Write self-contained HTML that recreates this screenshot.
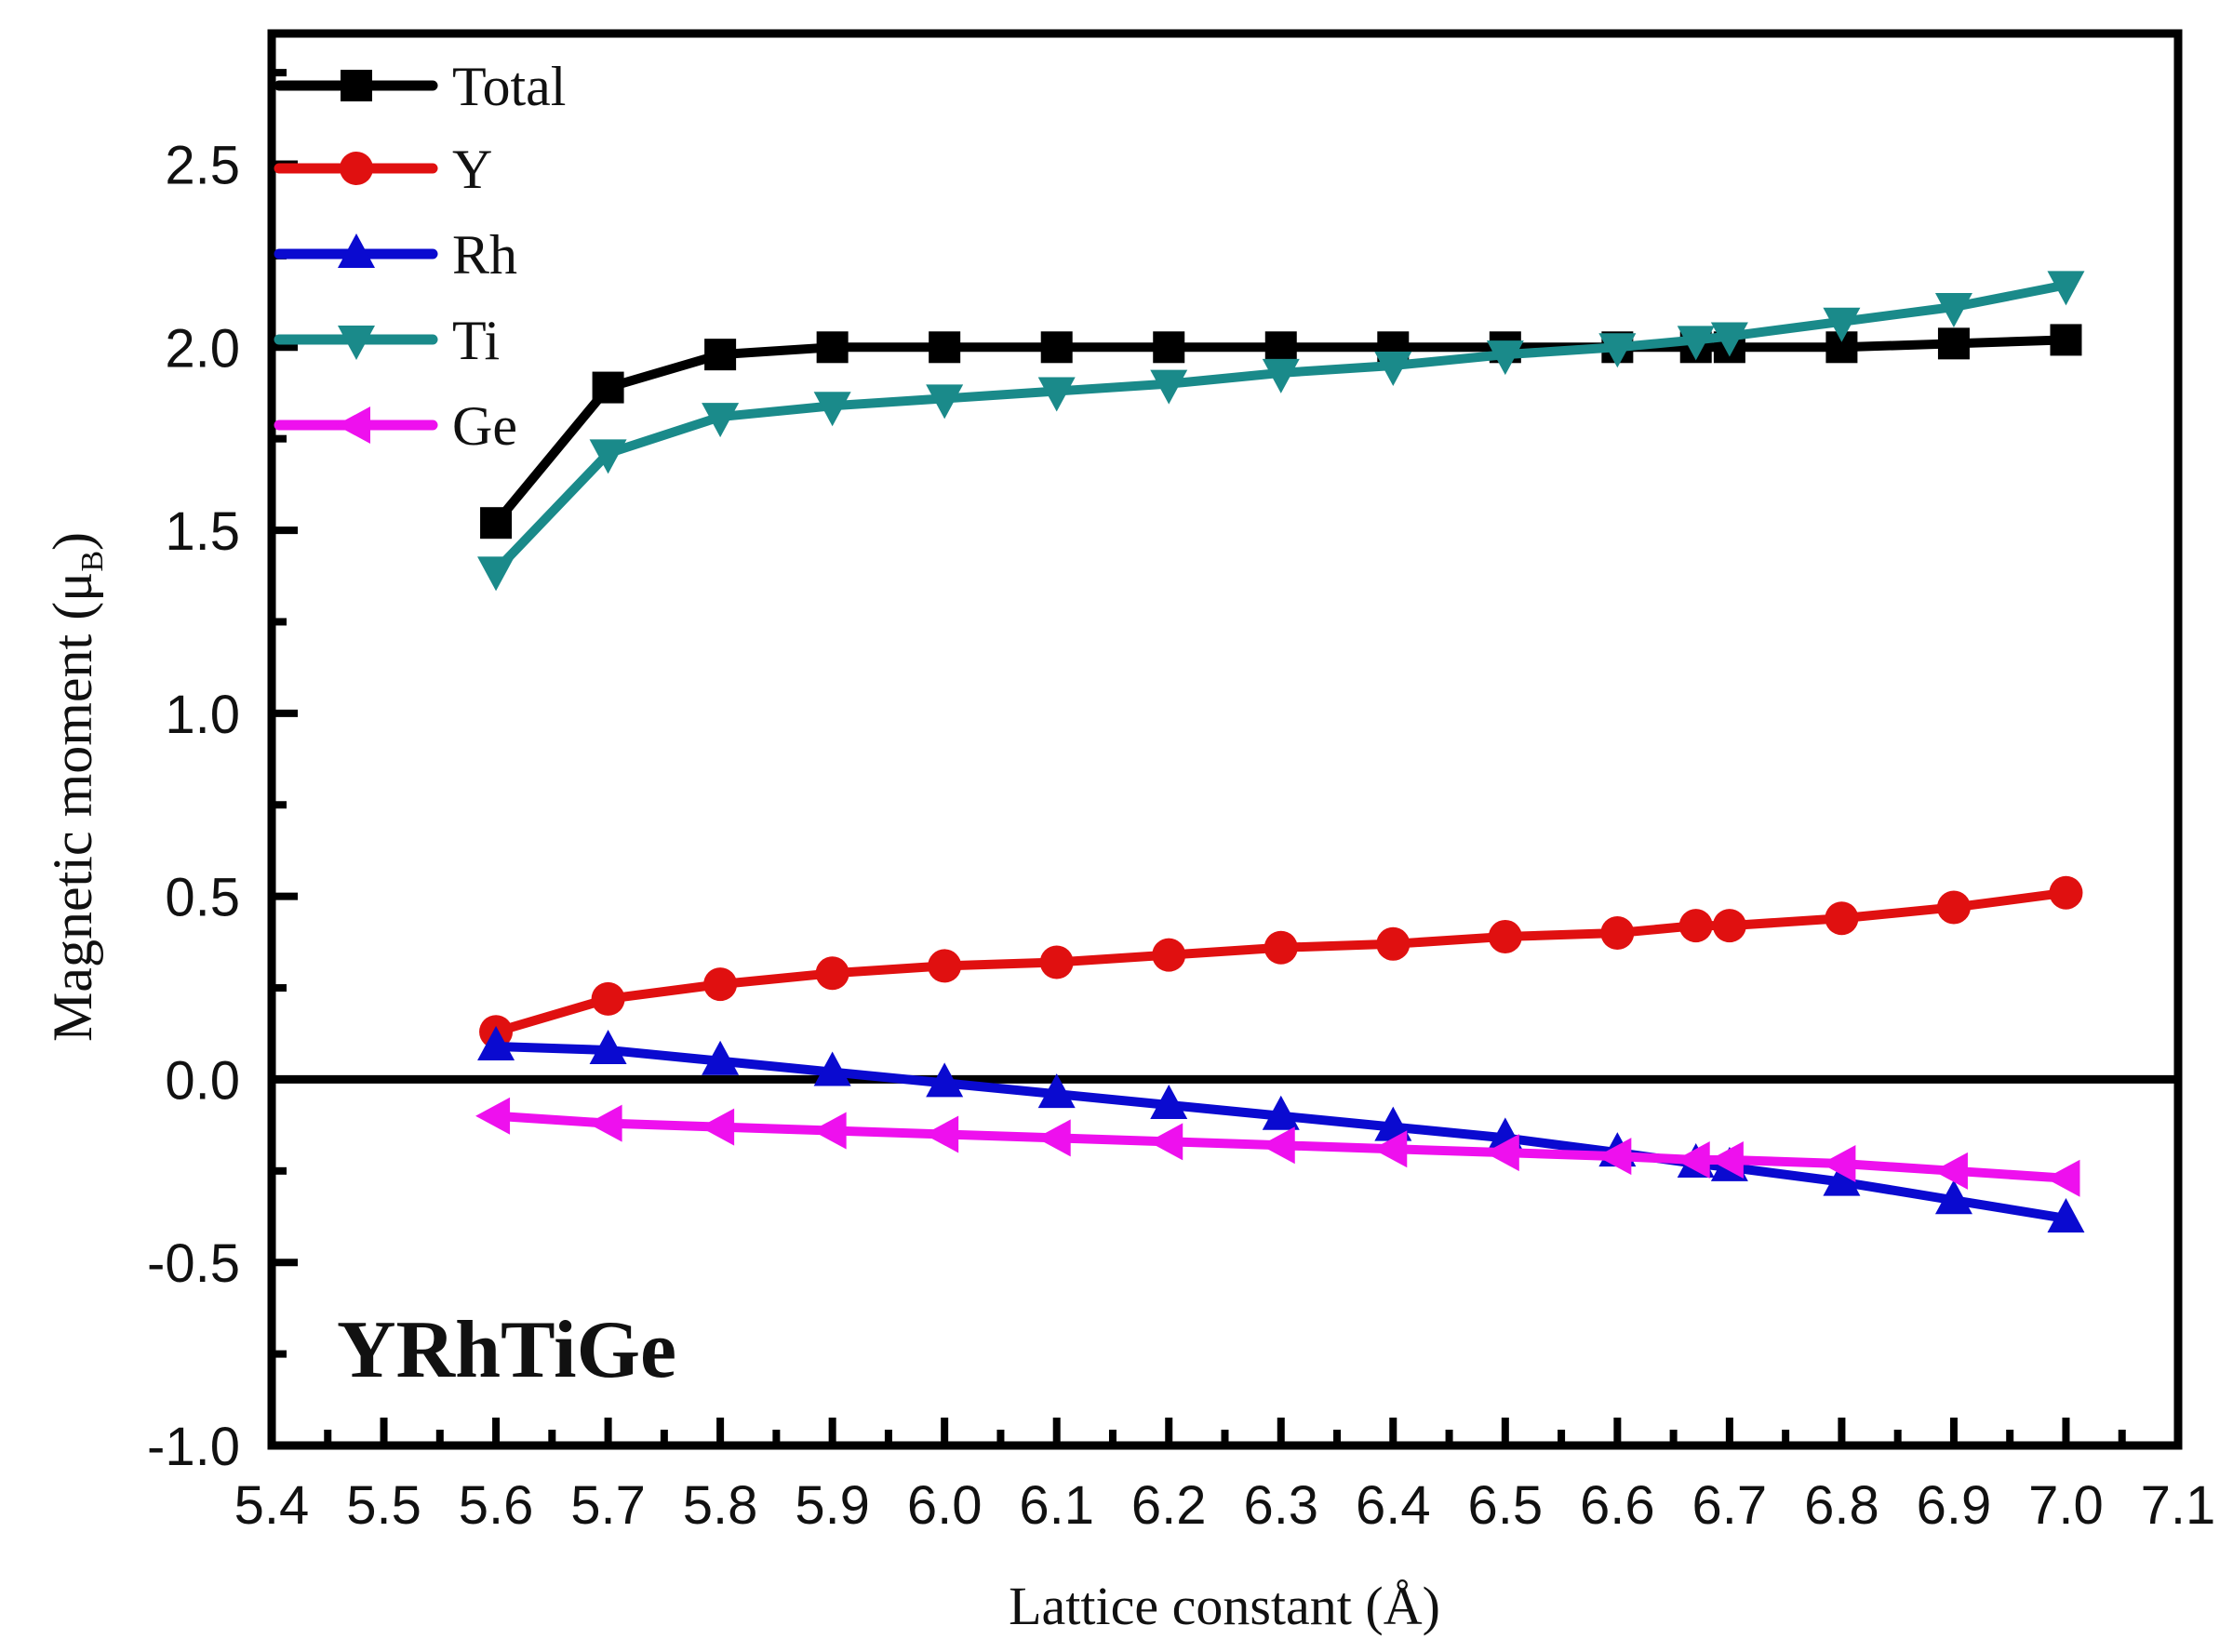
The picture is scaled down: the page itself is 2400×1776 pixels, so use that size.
<!DOCTYPE html>
<html><head><meta charset="utf-8"><style>
html,body{margin:0;padding:0;background:#fff;}
svg{display:block;}
.tick{font-family:"Liberation Sans",Arial,sans-serif;font-size:58px;fill:#111;}
.serif{font-family:"Liberation Serif","Times New Roman",serif;fill:#111;}
</style></head><body>
<svg id="chart" width="2400" height="1776" viewBox="0 0 2400 1776" xmlns="http://www.w3.org/2000/svg">
<rect x="0" y="0" width="2400" height="1776" fill="#fff"/>
<g id="plot"></g>
</svg>
<script>
const latticeX = [5.6,5.7,5.8,5.9,6.0,6.1,6.2,6.3,6.4,6.5,6.6,6.67,6.7,6.8,6.9,7.0];
const totalVals = [1.52,1.89,1.98,2.0,2.0,2.0,2.0,2.0,2.0,2.0,2.0,2.0,2.0,2.0,2.01,2.02];
const yVals = [0.13,0.22,0.26,0.29,0.31,0.32,0.34,0.36,0.37,0.39,0.40,0.42,0.42,0.44,0.47,0.51];
const rhVals = [0.09,0.08,0.05,0.02,-0.01,-0.04,-0.07,-0.10,-0.13,-0.16,-0.20,-0.23,-0.24,-0.28,-0.33,-0.38];
const tiVals = [1.39,1.71,1.81,1.84,1.86,1.88,1.90,1.93,1.95,1.98,2.0,2.02,2.03,2.07,2.11,2.17];
const geVals = [-0.10,-0.12,-0.13,-0.14,-0.15,-0.16,-0.17,-0.18,-0.19,-0.20,-0.21,-0.22,-0.22,-0.23,-0.25,-0.27];
const xTickLabels = ["5.4","5.5","5.6","5.7","5.8","5.9","6.0","6.1","6.2","6.3","6.4","6.5","6.6","6.7","6.8","6.9","7.0","7.1"];
const yTickLabels = ["-1.0","-0.5","0.0","0.5","1.0","1.5","2.0","2.5"];
const seriesNames = ["Total","Y","Rh","Ti","Ge"];

const NS = "http://www.w3.org/2000/svg";
const L = 292, R = 2341, T = 36, B = 1554;
const XMIN = 5.4, XMAX = 7.1, YMIN = -1.0, YMAX = 2.857;
function sx(v){ return L + (v - XMIN) / (XMAX - XMIN) * (R - L); }
function sy(v){ return B - (v - YMIN) / (YMAX - YMIN) * (B - T); }
const g = document.getElementById('plot');
function mk(tag, attrs, parent){
  const e = document.createElementNS(NS, tag);
  for (const k in attrs) e.setAttribute(k, attrs[k]);
  (parent || g).appendChild(e);
  return e;
}

const zl = mk('line', {x1:L, x2:R, y1:sy(0), y2:sy(0), stroke:'#000', 'stroke-width':9});



for (let i = 0; i < xTickLabels.length; i++) {
  const v = parseFloat(xTickLabels[i]);
  const x = sx(v);
  if (i > 0 && i < xTickLabels.length - 1) {
    const t = mk('line', {x1:x, x2:x, y1:B, y2:B-30, stroke:'#000', 'stroke-width':8});
    
    
  }
  if (i < xTickLabels.length - 1) {
    const xm = sx(v + 0.05);
    const tm = mk('line', {x1:xm, x2:xm, y1:B, y2:B-17, stroke:'#000', 'stroke-width':8});
    
    
  }
  const lb = mk('text', {x:x, y:1638, 'text-anchor':'middle', class:'tick'});
  lb.textContent = xTickLabels[i];
  
  
}
for (let i = 0; i < yTickLabels.length; i++) {
  const v = parseFloat(yTickLabels[i]);
  const y = sy(v);
  if (i > 0) {
    const t = mk('line', {x1:L, x2:L+28, y1:y, y2:y, stroke:'#000', 'stroke-width':8});
    
    
  }
  const ym = sy(v + 0.25);
  const tm = mk('line', {x1:L, x2:L+16, y1:ym, y2:ym, stroke:'#000', 'stroke-width':8});
  
  
  const lb = mk('text', {x:258, y:y+21, 'text-anchor':'end', class:'tick'});
  lb.textContent = yTickLabels[i];
  
  
}
const fr = mk('rect', {x:L, y:T, width:R-L, height:B-T, fill:'none', stroke:'#000', 'stroke-width':9});



function marker(type, x, y, color, parent){
  const s = 17;
  let e;
  if (type === 'square') e = mk('rect', {x:x-s, y:y-s, width:2*s, height:2*s, fill:color}, parent);
  else if (type === 'circle') e = mk('circle', {cx:x, cy:y, r:s+1, fill:color}, parent);
  else if (type === 'up') e = mk('polygon', {points:`${x},${y-s-5} ${x-s-3},${y+s-2} ${x+s+3},${y+s-2}`, fill:color}, parent);
  else if (type === 'down') e = mk('polygon', {points:`${x},${y+s+5} ${x-s-3},${y-s+2} ${x+s+3},${y-s+2}`, fill:color}, parent);
  else e = mk('polygon', {points:`${x-s-5},${y} ${x+s-2},${y-s-3} ${x+s-2},${y+s+3}`, fill:color}, parent);
  return e;
}

const seriesVals = [totalVals, yVals, rhVals, tiVals, geVals];
const colors = ['#000000','#e01010','#0a0ad0','#1a8a8a','#ee10ee'];
const markers = ['square','circle','up','down','left'];
const drawOrder = [1,0,3,2,4];
for (const si of drawOrder) {
  const grp = mk('g', {});
  
  
  const pts = latticeX.map((xv, j) => sx(xv) + ',' + sy(seriesVals[si][j])).join(' ');
  const pl = mk('polyline', {points:pts, fill:'none', stroke:colors[si], 'stroke-width':10, 'stroke-linejoin':'round'}, grp);
  
  
  latticeX.forEach((xv, j) => {
    const m = marker(markers[si], sx(xv), sy(seriesVals[si][j]), colors[si], grp);
    
    
  });
}

const legendY = [92,181,273,365,457];
for (let i = 0; i < seriesNames.length; i++) {
  const lg = mk('g', {});
  
  
  mk('line', {x1:300, x2:465, y1:legendY[i], y2:legendY[i], stroke:colors[i], 'stroke-width':11, 'stroke-linecap':'round'}, lg);
  marker(markers[i], 383, legendY[i], colors[i], lg);
  const t = mk('text', {x:486, y:legendY[i]+21, class:'serif', 'font-size':60}, lg);
  t.textContent = seriesNames[i];
}
</script>
<svg style="position:absolute;left:0;top:0" width="2400" height="1776" xmlns="http://www.w3.org/2000/svg">
<text x="362" y="1480" font-family="Liberation Serif, serif" font-weight="bold" font-size="88" fill="#111">YRhTiGe</text>
<text x="1316" y="1746" text-anchor="middle" font-family="Liberation Serif, serif" font-size="58" fill="#111">Lattice constant (Å)</text>
<text transform="translate(98,846) rotate(-90)" text-anchor="middle" font-family="Liberation Serif, serif" font-size="60" fill="#111">Magnetic moment (μ<tspan font-size="34" dy="12">B</tspan><tspan dy="-12">)</tspan></text>
</svg>
</body></html>
